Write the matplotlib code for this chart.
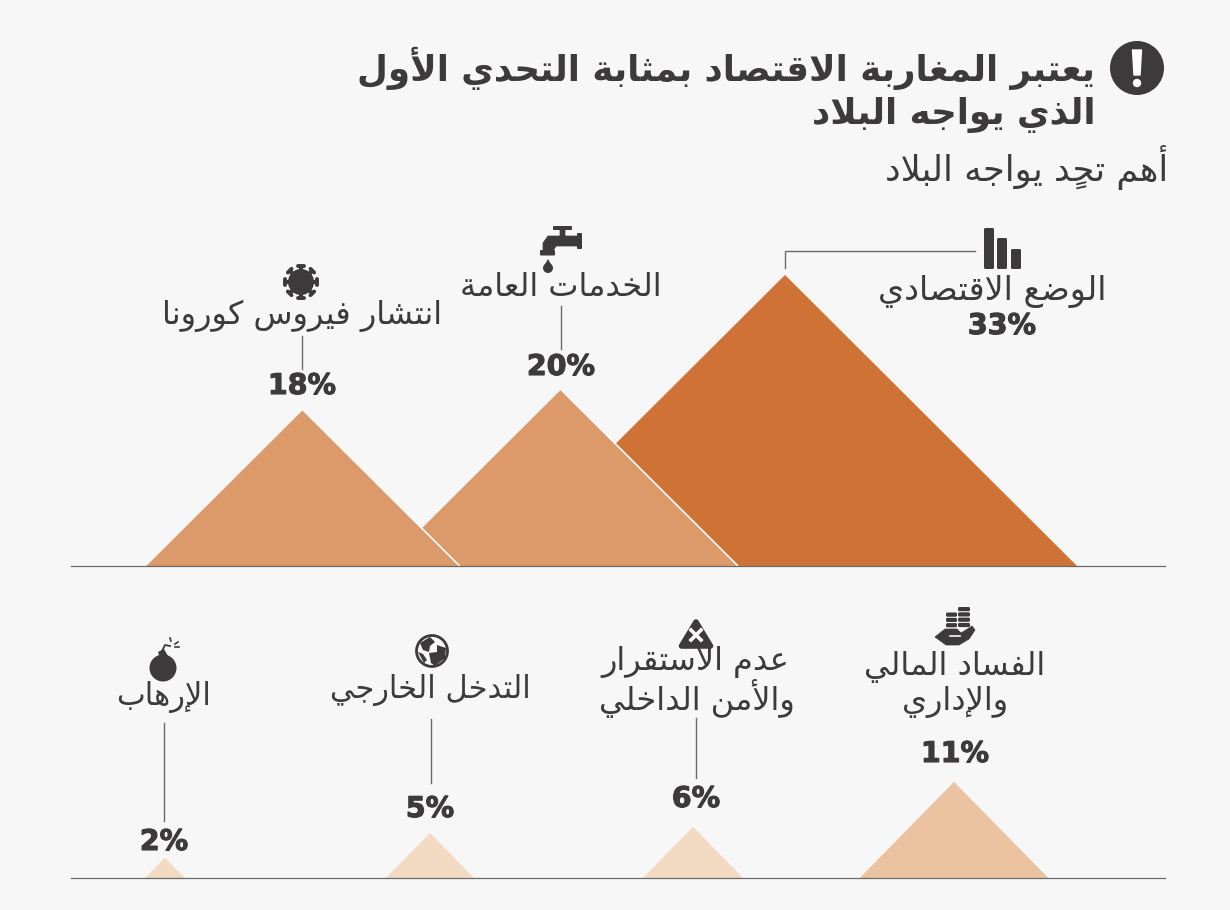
import numpy as np
import matplotlib
matplotlib.use('Agg')
import matplotlib.pyplot as plt
import matplotlib.patheffects as pe
from matplotlib.patches import Circle, Polygon, FancyBboxPatch

# chart data
title_lines = ['يعتبر المغاربة الاقتصاد بمثابة التحدي الأول', 'الذي يواجه البلاد']
subtitle = 'أهم تحدٍ يواجه البلاد'

top_labels = ['الوضع الاقتصادي', 'الخدمات العامة', 'انتشار فيروس كورونا']
top_values = [33.0, 20.0, 17.7]
top_text = ['33%', '20%', '18%']

bottom_labels = [['الفساد المالي', 'والإداري'], ['عدم الاستقرار', 'والأمن الداخلي'], ['التدخل الخارجي'], ['الإرهاب']]
bottom_values = [10.9, 5.8, 5.1, 2.3]
bottom_text = ['11%', '6%', '5%', '2%']

BG = '#f7f7f7'
INK = '#3c3a3b'
LINE = '#6b6b6b'
W, H = 1230, 910
PX_PER_UNIT = 8.82

# matplotlib has no arabic shaping, so pick the presentation forms by hand
LETTERS = 'ءآأؤإئابةتثجحخدذرزسشصضطظعغفقكلمنهوىي'
RIGHT_ONLY = 'آأؤإادذرزوىة'
FORMS = {}
code = 0xFE80
for ch in LETTERS:
    if ch == 'ء':
        FORMS[ch] = (code, code, code, code)
        code += 1
    elif ch in RIGHT_ONLY:
        FORMS[ch] = (code, code + 1, code, code + 1)
        code += 2
    else:
        FORMS[ch] = (code, code + 1, code + 2, code + 3)
        code += 4
LAM_ALEF = {'آ': 0xFEF5, 'أ': 0xFEF7, 'إ': 0xFEF9, 'ا': 0xFEFB}


def shape(text):
    # split off tanwin so it can follow its base letter
    chars = []
    for ch in text:
        if ch == '\u064d':
            chars[-1] = (chars[-1][0], ch)
        else:
            chars.append((ch, ''))
    out = []
    i = 0
    joined = False
    while i < len(chars):
        ch, mark = chars[i]
        if ch not in FORMS:
            out.append(ch + mark)
            joined = False
            i += 1
            continue
        nxt = chars[i + 1][0] if i + 1 < len(chars) else ''
        if ch == 'ل' and nxt in LAM_ALEF:
            out.append(chr(LAM_ALEF[nxt] + (1 if joined else 0)))
            joined = False
            i += 2
            continue
        can_next = ch != 'ء' and ch not in RIGHT_ONLY and nxt in FORMS and nxt != 'ء'
        if can_next and joined:
            form = FORMS[ch][3]
        elif can_next:
            form = FORMS[ch][2]
        elif joined:
            form = FORMS[ch][1]
        else:
            form = FORMS[ch][0]
        out.append(chr(form) + mark)
        joined = can_next
        i += 1
    return ''.join(reversed(out))


def px_axes(fig, x0, x1, base, top_units):
    # axes whose y is the share and whose x is the horizontal layout in pixels
    y0 = base - top_units * PX_PER_UNIT
    ax = fig.add_axes([x0 / W, 1 - base / H, (x1 - x0) / W, (base - y0) / H])
    ax.set_xlim(x0, x1)
    ax.set_ylim(0, top_units)
    ax.axis('off')
    ax.patch.set_alpha(0)
    return ax


def triangle(ax, centre, value, color, slope, white_edge=False):
    half = value * slope
    ax.fill([centre - half, centre, centre + half], [0, value, 0], color=color, lw=0)
    if white_edge:
        ax.plot([centre, centre + half], [value, 0], color='white', lw=1.2, solid_capstyle='butt')


def bar(ax, x, y, w, h, r=1.5, color=INK):
    ax.add_patch(FancyBboxPatch((x + r, y + r), w - 2 * r, h - 2 * r, boxstyle='round,pad=%f,rounding_size=%f' % (r, r), fc=color, ec='none'))


def label(ax, x, y, s, size=23):
    ax.text(x, y + 2, shape(s), ha='center', va='center', fontsize=size, color=INK)


def pct(ax, x, y, s):
    ax.text(x, y, s, ha='center', va='center', fontsize=20.5, fontweight='bold', color=INK,
            path_effects=[pe.withStroke(linewidth=0.8, foreground=INK)])


def vline(ax, x, y0, y1):
    ax.plot([x, x], [y0, y1], color=LINE, lw=1)


def icon_alert(ax, x, y):
    ax.add_patch(Circle((x, y), 27, fc=INK, ec='none'))
    ax.add_patch(Polygon([[x - 4.5, y - 18], [x + 4.5, y - 18], [x + 3, y + 7], [x - 3, y + 7]], fc='white', ec='white', lw=1, joinstyle='round'))
    ax.add_patch(Circle((x, y + 15), 4.2, fc='white', ec='none'))


def icon_bars(ax):
    bar(ax, 984, 228, 10, 41)
    bar(ax, 997, 238, 10, 31)
    bar(ax, 1011, 249, 10, 20)


def icon_tap(ax):
    ax.add_patch(Polygon([[543, 251], [543, 243], [548, 236], [560, 236], [560, 229], [565, 229], [565, 236], [577, 236], [577, 246], [556, 246], [553, 251]], fc=INK, ec=INK, lw=0.5))
    bar(ax, 577, 233, 5, 16, r=1)
    bar(ax, 553, 226, 19, 4, r=1)
    bar(ax, 540, 250, 15, 5.5, r=1)
    ax.add_patch(Polygon([[548, 259], [552, 266], [544, 266]], fc=INK, ec='none'))
    ax.add_patch(Circle((548, 268), 5, fc=INK, ec='none'))


def icon_virus(ax, x, y):
    ax.add_patch(Circle((x, y), 13, fc=INK, ec='none'))
    for a in np.arange(8) * np.pi / 4:
        dx, dy = np.cos(a), np.sin(a)
        ax.plot([x + 11 * dx, x + 15.5 * dx], [y + 11 * dy, y + 15.5 * dy], color=INK, lw=3, solid_capstyle='butt')
        ax.plot([x + 16 * dx - 2.6 * dy, x + 16 * dx + 2.6 * dy], [y + 16 * dy + 2.6 * dx, y + 16 * dy - 2.6 * dx], color=INK, lw=2.8, solid_capstyle='round')


def icon_coins(ax):
    for i in range(4):
        bar(ax, 958, 607 + i * 5.3, 12, 4.2, r=1.5)
    for i in range(3):
        bar(ax, 946, 612.5 + i * 5.3, 11, 4.2, r=1.5)
    ax.add_patch(Polygon([[935, 637], [945, 629], [957, 629], [961, 633], [966, 630], [972, 626], [975, 630], [969, 639], [959, 645], [946, 645]], fc=INK, ec=INK, lw=0.5, joinstyle='round'))
    ax.plot([950, 960], [636, 636], color=BG, lw=1.2)


def icon_warn(ax):
    ax.add_patch(Polygon([[696, 622], [710.5, 646], [681.5, 646]], fc=INK, ec=INK, lw=4, joinstyle='round'))
    ax.plot([691, 701], [630, 640], color='white', lw=2.6)
    ax.plot([691, 701], [640, 630], color='white', lw=2.6)


def icon_globe(ax, x, y):
    ax.add_patch(Circle((x, y), 15.5, fc=BG, ec=INK, lw=2.0))
    ax.add_patch(Polygon([[x - 12, y - 8], [x - 2, y - 14], [x + 3, y - 9], [x - 2, y - 5], [x - 3, y + 1], [x - 9, y - 1]], fc=INK, ec='none'))
    ax.add_patch(Polygon([[x - 3, y + 2], [x + 5, y + 1], [x + 5, y - 6], [x + 14, y - 3], [x + 13, y + 7], [x + 3, y + 15], [x - 1, y + 12]], fc=INK, ec='none'))
    ax.add_patch(Polygon([[x - 14, y + 1], [x - 9, y + 3], [x - 5, y + 9], [x - 8, y + 12]], fc=INK, ec='none'))


def icon_bomb(ax, x, y):
    ax.add_patch(Circle((x, y), 13.5, fc=INK, ec='none'))
    ax.add_patch(Polygon([[x - 5, y - 16], [x + 1, y - 19], [x + 5, y - 12], [x - 3, y - 10]], fc=INK, ec='none'))
    ax.plot([x - 1, x + 2, x + 7], [y - 17, y - 23, y - 22], color=INK, lw=1.3)
    for dx0, dy0, dx1, dy1 in [(8, -27, 7, -30), (12, -24, 15, -26), (12, -21, 16, -21)]:
        ax.plot([x + dx0, x + dx1], [y + dy0, y + dy1], color=INK, lw=1.2)


fig = plt.figure(figsize=(W / 100, H / 100), dpi=100, facecolor=BG)

# triangles, later ones sit on top of earlier ones
ax_top = px_axes(fig, 71, 1165, 566, 36)
for centre, v, c, edge in zip([785, 561, 303], top_values, ['#cf7235', '#dc9969', '#dc9969'], [False, True, True]):
    triangle(ax_top, centre, v, c, 8.85, edge)
ax_top.plot([71, 1165], [0, 0], color=LINE, lw=0.9, clip_on=False)

ax_bot = px_axes(fig, 71, 1165, 878, 12)
for centre, v, c in zip([954, 693, 430, 165], bottom_values, ['#ebc3a0', '#f3dbc3', '#f3dbc3', '#f3dbc3']):
    triangle(ax_bot, centre, v, c, 8.65)
ax_bot.plot([71, 1165], [0, 0], color=LINE, lw=0.9, clip_on=False)

# everything else is annotation in pixel coordinates
ov = fig.add_axes([0, 0, 1, 1])
ov.set_xlim(0, W)
ov.set_ylim(H, 0)
ov.axis('off')
ov.patch.set_alpha(0)

ov.text(1095, 68, shape(title_lines[0]), ha='right', va='center', fontsize=25.7, fontweight='bold', color=INK)
ov.text(1095, 115, shape(title_lines[1]), ha='right', va='center', fontsize=25.7, fontweight='bold', color=INK)
ov.text(1168, 168, shape(subtitle), ha='right', va='center', fontsize=25.4, color=INK)
icon_alert(ov, 1137, 68)

# top row
label(ov, 992, 290, top_labels[0], 24)
pct(ov, 1002, 326, top_text[0])
ov.plot([785, 785, 975], [268, 251, 251], color=LINE, lw=1)
icon_bars(ov)

label(ov, 561, 286, top_labels[1])
vline(ov, 561, 306, 349)
pct(ov, 561, 367, top_text[1])
icon_tap(ov)

label(ov, 302, 314, top_labels[2])
vline(ov, 302, 336, 369)
pct(ov, 302, 386, top_text[2])
icon_virus(ov, 301, 282)

# bottom row
label(ov, 955, 665, bottom_labels[0][0])
label(ov, 955, 700, bottom_labels[0][1])
pct(ov, 955, 754, bottom_text[0])
icon_coins(ov)

label(ov, 695, 660, bottom_labels[1][0])
label(ov, 697, 696, bottom_labels[1][1])
vline(ov, 696, 718, 778)
pct(ov, 696, 799, bottom_text[1])
icon_warn(ov)

label(ov, 430, 688, bottom_labels[2][0], 22)
vline(ov, 430.5, 719, 783)
pct(ov, 430, 809, bottom_text[2])
icon_globe(ov, 432, 651)

label(ov, 164, 695, bottom_labels[3][0], 22)
vline(ov, 164, 723, 821)
pct(ov, 164, 842, bottom_text[3])
icon_bomb(ov, 163, 668)

fig.savefig('out.png', dpi=100, facecolor=BG)
